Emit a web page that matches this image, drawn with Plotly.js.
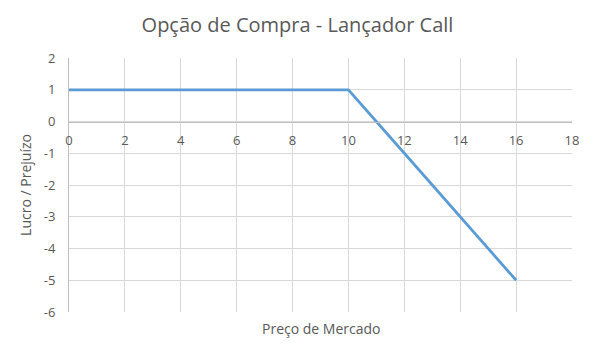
<!DOCTYPE html>
<html>
<head>
<meta charset="utf-8">
<script src="https://cdn.plot.ly/plotly-3.0.1.min.js"></script>
<style>html,body{margin:0;padding:0;background:#fff;}#chart{width:595px;height:356px;}</style>
</head>
<body>
<div id="chart"></div>
<script>
const titleText = "Opção de Compra - Lançador Call";
const xTitle = "Preço de Mercado";
const yTitle = "Lucro / Prejuízo";
const precos = [0, 2, 4, 6, 8, 10, 12, 14, 16];
const lucro = [1, 1, 1, 1, 1, 1, -1, -3, -5];
const xTicks = [0, 2, 4, 6, 8, 10, 12, 14, 16, 18];
const yTicks = [2, 1, 0, -1, -2, -3, -4, -5, -6];

const font = "'Open Sans', 'Noto Sans', sans-serif";
const grey = "#595959";

const data = [{
  x: precos, y: lucro, type: "scatter", mode: "lines",
  line: {color: "#5b9bd5", width: 2.75},
  hoverinfo: "skip"
}];

const layout = {
  width: 595, height: 356,
  margin: {l: 69, r: 23, t: 58, b: 44},
  paper_bgcolor: "#fff", plot_bgcolor: "#fff",
  showlegend: false,
  font: {family: font, color: grey, size: 13},
  title: {text: titleText, font: {family: font, size: 20, color: grey}, x: 0.5, xanchor: "center", y: 0.93, yanchor: "middle"},
  xaxis: {
    range: [0, 18], tickvals: xTicks, ticktext: xTicks.map(String),
    anchor: "free", position: 0.75,
    showgrid: true, gridcolor: "#d9d9d9", gridwidth: 1,
    zeroline: false, showline: true, linecolor: "#bfbfbf", linewidth: 1,
    ticks: "", ticklabelstandoff: 7,
    tickfont: {family: font, size: 13, color: grey},
    fixedrange: true
  },
  yaxis: {
    range: [-6, 2], tickvals: yTicks, ticktext: yTicks.map(String),
    showgrid: true, gridcolor: "#d9d9d9", gridwidth: 1,
    zeroline: false, showline: true, linecolor: "#bfbfbf", linewidth: 1,
    ticks: "", ticklabelstandoff: 10,
    tickfont: {family: font, size: 13, color: grey},
    title: {text: yTitle, font: {family: font, size: 14, color: grey}, standoff: 8},
    fixedrange: true
  },
  annotations: [{
    text: xTitle, xref: "paper", yref: "paper", x: 0.5, y: -0.02,
    xanchor: "center", yanchor: "top", showarrow: false,
    font: {family: font, size: 14, color: grey}
  }]
};

Plotly.newPlot("chart", data, layout, {staticPlot: true, displayModeBar: false});
</script>
</body>
</html>
